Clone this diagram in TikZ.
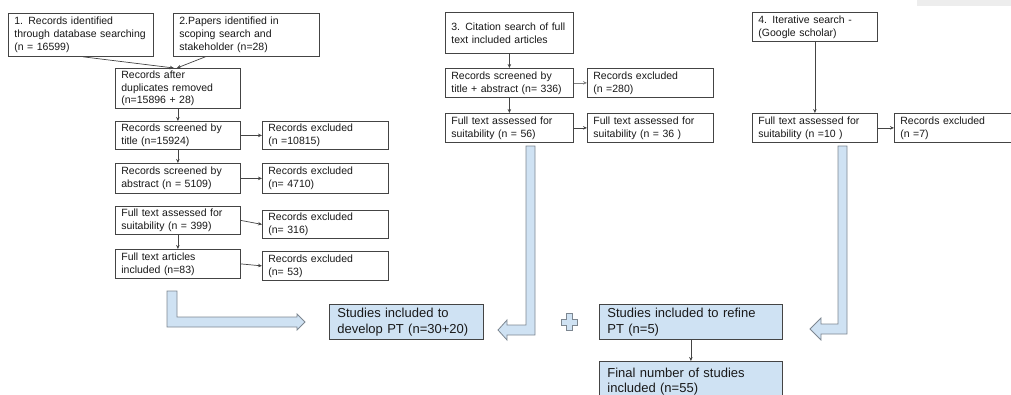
\documentclass[tikz,border=0pt]{standalone}
\usepackage{fontspec}
\setmainfont{Liberation Sans}
\usetikzlibrary{arrows.meta}
\definecolor{boxblue}{RGB}{207,226,243}
\definecolor{edgegray}{RGB}{68,68,68}
\definecolor{blockedge}{RGB}{125,135,145}
\begin{document}
\begin{tikzpicture}[x=1pt,y=-1pt,
  box/.style={draw=edgegray, line width=0.8pt, fill=white, align=left,
    inner xsep=6pt, inner ysep=1pt, anchor=north west, text=black!90,
    font=\fontsize{10.5}{12.8}\selectfont},
  resbox/.style={box, fill=boxblue, inner xsep=8pt,
    font=\fontsize{13}{15.5}\selectfont},
  flow/.style={draw=edgegray, line width=0.7pt,
    -{Stealth[length=4pt,width=3.5pt]}},
  block/.style={draw=blockedge, line width=0.8pt, fill=boxblue, line join=miter}]
\useasboundingbox (0,0) rectangle (1011,394);
\fill[black!7] (917,0) rectangle (1011,6);

% column 1: database and scoping searches
\node[box, text width=133pt, minimum height=43pt] (db) at (8,13)
  {1. Records identified\\through database searching\\(n = 16599)};
\node[box, text width=134pt, minimum height=43pt] (scope) at (173,13)
  {2.Papers identified in\\scoping search and\\stakeholder (n=28)};
\node[box, text width=113pt, minimum height=40pt] (dup) at (115,68)
  {Records after\\duplicates removed\\(n=15896 + 28)};
\node[box, text width=113pt, minimum height=28pt] (title) at (115,121)
  {Records screened by\\title (n=15924)};
\node[box, text width=114pt, minimum height=28pt] (extitle) at (262,121)
  {Records excluded\\(n =10815)};
\node[box, text width=113pt, minimum height=30pt] (abs) at (115,163)
  {Records screened by\\abstract (n = 5109)};
\node[box, text width=114pt, minimum height=30pt] (exabs) at (262,163)
  {Records excluded\\(n= 4710)};
\node[box, text width=113pt, minimum height=28pt] (full) at (115,206)
  {Full text assessed for\\suitability (n = 399)};
\node[box, text width=114pt, minimum height=28pt] (exfull) at (262,210)
  {Records excluded\\(n= 316)};
\node[box, text width=113pt, minimum height=29pt] (incl) at (115,249)
  {Full text articles\\included (n=83)};
\node[box, text width=114pt, minimum height=29pt] (exincl) at (262,251)
  {Records excluded\\(n= 53)};

\draw[flow] ([xshift=2pt]db.south) -- ([xshift=-4pt]dup.north);
\draw[flow] ([xshift=-41pt]scope.south) -- ([xshift=-1pt]dup.north);
\draw[flow] (dup) -- (title);
\draw[flow] (title) -- (abs);
\draw[flow] (title) -- (extitle);
\draw[flow] (abs) -- (exabs);
\draw[flow] (full.east) -- (exfull.west);
\draw[flow] (full) -- (incl);
\draw[flow] (incl.east) -- (exincl.west);

% column 3: citation search
\node[box, text width=116pt, minimum height=41pt] (cite) at (445,12)
  {3. Citation search of full\\text included articles};
\node[box, text width=116pt, minimum height=29pt] (cscreen) at (445,68)
  {Records screened by\\title + abstract (n= 336)};
\node[box, text width=114pt, minimum height=29pt] (cexcl) at (587,68)
  {Records excluded\\(n =280)};
\node[box, text width=116pt, minimum height=29pt] (cfull) at (445,113)
  {Full text assessed for\\suitability (n = 56)};
\node[box, text width=114pt, minimum height=29pt] (cfullx) at (587,113)
  {Full text assessed for\\suitability (n = 36 )};

\draw[flow] (cite) -- (cscreen);
\draw[flow] (cscreen) -- (cfull);
\draw[flow, draw=black!50] (cscreen) -- (cexcl);
\draw[flow] (cfull) -- (cfullx);

% column 4: iterative search
\node[box, text width=113pt, minimum height=29pt] (iter) at (752,12)
  {4. Iterative search -\\(Google scholar)};
\node[box, text width=113pt, minimum height=29pt] (ifull) at (752,113)
  {Full text assessed for\\suitability (n =10 )};
\node[box, text width=114pt, minimum height=29pt] (iexcl) at (894,113)
  {Records excluded\\(n =7)};

\draw[flow] (iter) -- (ifull);
\draw[flow] (ifull) -- (iexcl);

% results
\node[resbox, text width=138pt, minimum height=35pt] (develop) at (329,304)
  {Studies included to\\develop PT (n=30+20)};
\node[resbox, text width=167pt, minimum height=35pt] (refine) at (599,304)
  {Studies included to refine\\PT (n=5)};
\node[resbox, text width=167pt, minimum height=40pt] (final) at (599,361)
  {Final number of studies\\included (n=55)};

\draw[flow] (refine) -- (final);

% block arrows feeding the results
\draw[block] (167,291) -- (177,291) -- (177,317) -- (297,317) -- (297,314)
  -- (305,322) -- (297,330) -- (297,327) -- (167,327) -- cycle;
\draw[block] (526,146) -- (535,146) -- (535,335) -- (507,335) -- (507,340)
  -- (498,330) -- (507,320) -- (507,325) -- (526,325) -- cycle;
\draw[block] (838,146) -- (847,146) -- (847,334) -- (821,334) -- (821,340)
  -- (810,329) -- (821,318) -- (821,324) -- (838,324) -- cycle;

% plus sign
\draw[block] (566,313) -- (572,313) -- (572,319) -- (577,319) -- (577,325)
  -- (572,325) -- (572,330) -- (566,330) -- (566,325) -- (561,325)
  -- (561,319) -- (566,319) -- cycle;
\end{tikzpicture}
\end{document}
